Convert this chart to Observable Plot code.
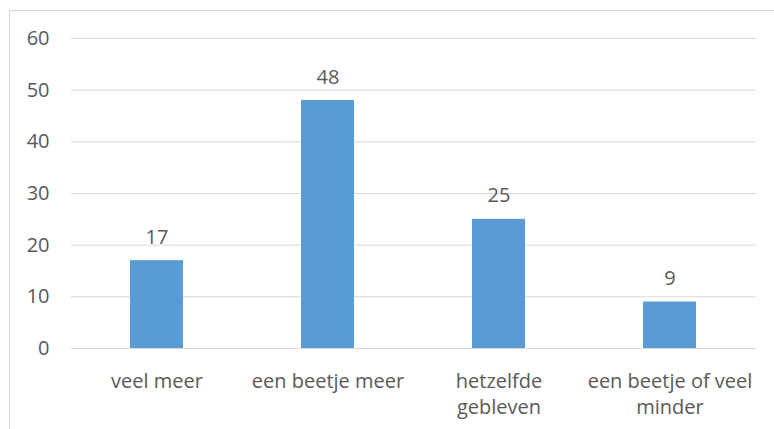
<!DOCTYPE html>
<html>
<head>
<meta charset="utf-8">
<script src="https://cdn.jsdelivr.net/npm/d3@7"></script>
<script src="https://cdn.jsdelivr.net/npm/@observablehq/plot@0.6"></script>
<style>
  html, body { margin: 0; padding: 0; background: #fff; overflow: hidden; }
  #wrap { position: relative; width: 774px; height: 429px; }
  #frame { position: absolute; left: 9px; top: 10px; width: 800px; height: 500px; border: 1px solid #d9d9d9; box-sizing: border-box; }
  #chart { position: absolute; left: 0; top: 0; }
</style>
</head>
<body>
<div id="wrap"><div id="frame"></div><div id="chart"></div></div>
<script>
const categories = ["veel meer", "een beetje meer", "hetzelfde gebleven", "een beetje of veel minder"];
const tickLabels = ["veel meer", "een beetje meer", "hetzelfde\ngebleven", "een beetje of veel\nminder"];
const values = [17, 48, 25, 9];
const yTicks = [0, 10, 20, 30, 40, 50, 60];

const data = categories.map((c, i) => ({category: c, value: values[i]}));
const labelOf = new Map(categories.map((c, i) => [c, tickLabels[i]]));

const chart = Plot.plot({
  width: 774,
  height: 429,
  marginLeft: 71,
  marginRight: 18,
  marginTop: 38,
  marginBottom: 81,
  style: {fontFamily: "'Open Sans', sans-serif", fontSize: "20px", color: "#595959", background: "transparent"},
  x: {domain: categories, paddingInner: 0.69, paddingOuter: 0.345, label: null},
  y: {domain: [0, 60], label: null},
  marks: [
    Plot.gridY(yTicks, {stroke: "#d9d9d9", strokeOpacity: 1, strokeWidth: 1}),
    Plot.axisY(yTicks, {tickSize: 0, tickPadding: 22, fontSize: 20, fill: "#595959", label: null}),
    Plot.axisX({tickSize: 0, tickPadding: 21, fontSize: 20, fill: "#595959", lineHeight: 1.3, tickFormat: d => labelOf.get(d), label: null}),
    Plot.barY(data, {x: "category", y: "value", fill: "#5b9bd5"}),
    Plot.text(data, {x: "category", y: "value", text: d => String(d.value), lineAnchor: "bottom", dy: -17, fontSize: 20, fill: "#595959"})
  ]
});
document.getElementById("chart").appendChild(chart);
</script>
</body>
</html>
